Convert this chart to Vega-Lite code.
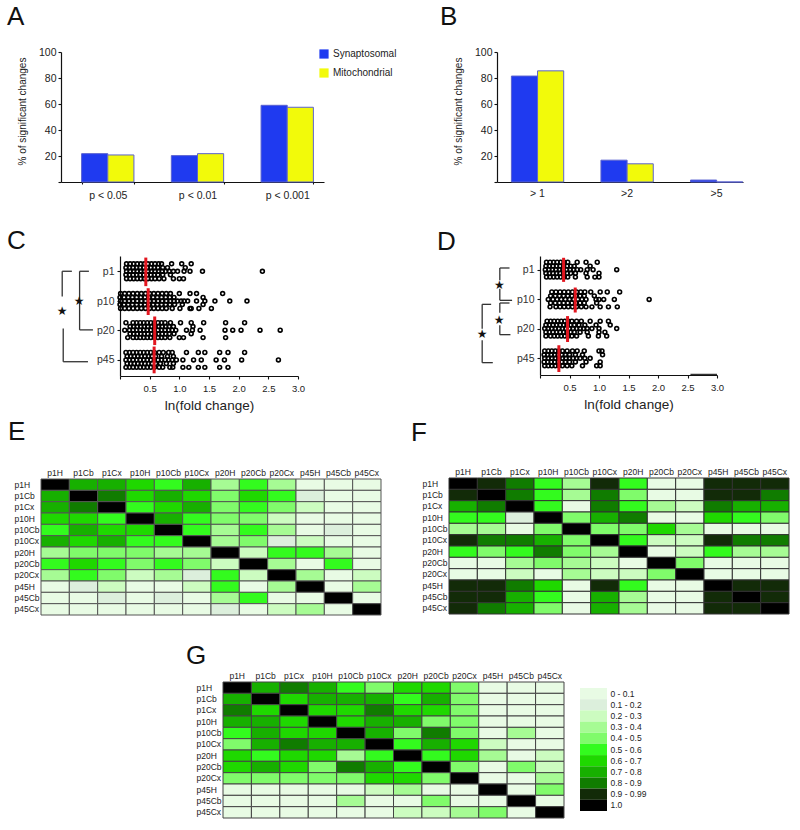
{"$schema":"https://vega.github.io/schema/vega-lite/v6.json","background":"white","padding":{"left":7,"top":4,"right":0,"bottom":0},"bounds":"flush","spacing":0,
"config":{"view":{"stroke":null},"font":"Liberation Sans","axis":{"labelFont":"Liberation Sans","titleFont":"Liberation Sans","grid":false,"labelColor":"#222","titleColor":"#222","domainColor":"#111","tickColor":"#111","titleFontWeight":"normal","domainWidth":1.2,"tickWidth":1.1,"labelOverlap":false,"labelFlush":false},"title":{"fontWeight":"normal","fontSize":26,"anchor":"start","frame":"group","color":"#111","font":"Liberation Sans"},"legend":{"labelFont":"Liberation Sans"}},
"resolve":{"scale":{"fill":"independent","x":"independent","y":"independent"},"legend":{"fill":"independent"}},
"datasets":{
"A":[{"g":"p < 0.05","s":"Synaptosomal","v":21.8},{"g":"p < 0.05","s":"Mitochondrial","v":20.8},{"g":"p < 0.01","s":"Synaptosomal","v":20.3},{"g":"p < 0.01","s":"Mitochondrial","v":21.8},{"g":"p < 0.001","s":"Synaptosomal","v":59},{"g":"p < 0.001","s":"Mitochondrial","v":57.5}],
"B":[{"g":"> 1","s":"Synaptosomal","v":81.5},{"g":"> 1","s":"Mitochondrial","v":85.5},{"g":">2","s":"Synaptosomal","v":16.8},{"g":">2","s":"Mitochondrial","v":14},{"g":">5","s":"Synaptosomal","v":1.5},{"g":">5","s":"Mitochondrial","v":0}],
"Cm":[{"x":0.435,"y":0.02,"y2":0.98},{"x":0.475,"y":1.05,"y2":1.95},{"x":0.585,"y":2.0,"y2":2.96},{"x":0.575,"y":3.01,"y2":3.91}],
"Dm":[{"x":0.4,"y":0.06,"y2":0.87},{"x":0.597,"y":1.06,"y2":1.9},{"x":0.467,"y":2.02,"y2":2.89},{"x":0.32,"y":3.0,"y2":3.9}],
"Cb":[{"x":-0.974,"x2":-0.811,"y":0.48,"y2":0.48},{"x":-0.974,"x2":-0.974,"y":0.48,"y2":1.33},{"x":-0.957,"x2":-0.957,"y":2.4,"y2":3.52},{"x":-0.957,"x2":-0.54,"y":3.52,"y2":3.52},{"x":-0.681,"x2":-0.524,"y":0.48,"y2":0.48},{"x":-0.681,"x2":-0.681,"y":0.48,"y2":2.45},{"x":-0.681,"x2":-0.456,"y":2.45,"y2":2.45}],
"Db":[{"x":-0.681,"x2":-0.518,"y":0.403,"y2":0.403},{"x":-0.681,"x2":-0.681,"y":0.403,"y2":0.818},{"x":-0.681,"x2":-0.681,"y":1.098,"y2":1.49},{"x":-0.681,"x2":-0.473,"y":1.49,"y2":1.49},{"x":-0.681,"x2":-0.518,"y":1.58,"y2":1.58},{"x":-0.681,"x2":-0.681,"y":1.58,"y2":1.905},{"x":-0.681,"x2":-0.681,"y":2.33,"y2":2.644},{"x":-0.681,"x2":-0.501,"y":2.644,"y2":2.644},{"x":-0.98,"x2":-0.828,"y":1.625,"y2":1.625},{"x":-0.98,"x2":-0.98,"y":1.625,"y2":2.443},{"x":-0.98,"x2":-0.98,"y":2.835,"y2":3.585},{"x":-0.98,"x2":-0.8,"y":3.585,"y2":3.585},{"x":2.55,"x2":3,"y":3.98,"y2":3.98}],
"Cs":[{"x":-0.69,"y":1.48,"t":"★"},{"x":-0.974,"y":1.8,"t":"★"}],
"Ds":[{"x":-0.687,"y":0.964,"t":"★"},{"x":-0.693,"y":2.14,"t":"★"},{"x":-0.98,"y":2.633,"t":"★"}],
"C":[{"x":0.11,"y":0.23},{"x":0.17,"y":0.23},{"x":0.23,"y":0.23},{"x":0.29,"y":0.23},{"x":0.35,"y":0.23},{"x":0.41,"y":0.23},{"x":0.47,"y":0.23},{"x":0.53,"y":0.23},{"x":0.59,"y":0.23},{"x":0.65,"y":0.23},{"x":0.7,"y":0.23},{"x":0.87,"y":0.23},{"x":1.04,"y":0.23},{"x":1.2,"y":0.23},
{"x":0.1,"y":0.36},{"x":0.16,"y":0.36},{"x":0.22,"y":0.36},{"x":0.28,"y":0.36},{"x":0.34,"y":0.36},{"x":0.4,"y":0.36},{"x":0.46,"y":0.36},{"x":0.52,"y":0.36},{"x":0.58,"y":0.36},{"x":0.64,"y":0.36},{"x":0.72,"y":0.36},{"x":0.8,"y":0.36},{"x":1.1,"y":0.36},
{"x":0.11,"y":0.48},{"x":0.17,"y":0.48},{"x":0.23,"y":0.48},{"x":0.29,"y":0.48},{"x":0.35,"y":0.48},{"x":0.41,"y":0.48},{"x":0.47,"y":0.48},{"x":0.53,"y":0.48},{"x":0.59,"y":0.48},{"x":0.65,"y":0.48},{"x":0.71,"y":0.48},{"x":0.77,"y":0.48},{"x":0.83,"y":0.48},{"x":0.9,"y":0.48},{"x":0.97,"y":0.48},{"x":1.08,"y":0.48},{"x":1.18,"y":0.48},{"x":1.39,"y":0.48},{"x":2.4,"y":0.48},
{"x":0.1,"y":0.6},{"x":0.16,"y":0.6},{"x":0.22,"y":0.6},{"x":0.28,"y":0.6},{"x":0.34,"y":0.6},{"x":0.4,"y":0.6},{"x":0.46,"y":0.6},{"x":0.52,"y":0.6},{"x":0.58,"y":0.6},{"x":0.64,"y":0.6},{"x":0.72,"y":0.6},{"x":0.85,"y":0.6},
{"x":0.11,"y":0.73},{"x":0.17,"y":0.73},{"x":0.23,"y":0.73},{"x":0.29,"y":0.73},{"x":0.35,"y":0.73},{"x":0.41,"y":0.73},{"x":0.47,"y":0.73},{"x":0.53,"y":0.73},{"x":0.59,"y":0.73},{"x":0.66,"y":0.73},{"x":0.74,"y":0.73},{"x":0.9,"y":0.73},{"x":1.0,"y":0.73},{"x":1.07,"y":0.73},
{"x":0.01,"y":1.23},{"x":0.08,"y":1.23},{"x":0.15,"y":1.23},{"x":0.22,"y":1.23},{"x":0.29,"y":1.23},{"x":0.36,"y":1.23},{"x":0.43,"y":1.23},{"x":0.5,"y":1.23},{"x":0.57,"y":1.23},{"x":0.64,"y":1.23},{"x":0.71,"y":1.23},{"x":0.78,"y":1.23},{"x":0.85,"y":1.23},{"x":1.0,"y":1.23},{"x":1.18,"y":1.23},{"x":1.29,"y":1.23},{"x":1.73,"y":1.23},
{"x":0.0,"y":1.36},{"x":0.07,"y":1.36},{"x":0.14,"y":1.36},{"x":0.21,"y":1.36},{"x":0.28,"y":1.36},{"x":0.35,"y":1.36},{"x":0.42,"y":1.36},{"x":0.49,"y":1.36},{"x":0.56,"y":1.36},{"x":0.63,"y":1.36},{"x":0.7,"y":1.36},{"x":0.77,"y":1.36},{"x":0.84,"y":1.36},{"x":0.91,"y":1.36},{"x":1.4,"y":1.36},
{"x":0.01,"y":1.48},{"x":0.08,"y":1.48},{"x":0.15,"y":1.48},{"x":0.22,"y":1.48},{"x":0.29,"y":1.48},{"x":0.36,"y":1.48},{"x":0.43,"y":1.48},{"x":0.5,"y":1.48},{"x":0.57,"y":1.48},{"x":0.64,"y":1.48},{"x":0.71,"y":1.48},{"x":0.78,"y":1.48},{"x":0.85,"y":1.48},{"x":0.91,"y":1.48},{"x":0.97,"y":1.48},{"x":1.03,"y":1.48},{"x":1.08,"y":1.48},{"x":1.14,"y":1.48},{"x":1.29,"y":1.48},{"x":1.43,"y":1.48},{"x":1.6,"y":1.48},{"x":1.85,"y":1.48},{"x":2.14,"y":1.48},
{"x":0.0,"y":1.6},{"x":0.07,"y":1.6},{"x":0.14,"y":1.6},{"x":0.21,"y":1.6},{"x":0.28,"y":1.6},{"x":0.35,"y":1.6},{"x":0.42,"y":1.6},{"x":0.49,"y":1.6},{"x":0.56,"y":1.6},{"x":0.63,"y":1.6},{"x":0.7,"y":1.6},{"x":0.77,"y":1.6},{"x":0.84,"y":1.6},{"x":0.92,"y":1.6},{"x":1.05,"y":1.6},{"x":1.4,"y":1.6},
{"x":0.01,"y":1.73},{"x":0.08,"y":1.73},{"x":0.15,"y":1.73},{"x":0.22,"y":1.73},{"x":0.29,"y":1.73},{"x":0.36,"y":1.73},{"x":0.43,"y":1.73},{"x":0.5,"y":1.73},{"x":0.57,"y":1.73},{"x":0.64,"y":1.73},{"x":0.71,"y":1.73},{"x":0.78,"y":1.73},{"x":0.88,"y":1.73},{"x":1.01,"y":1.73},{"x":1.18,"y":1.73},{"x":1.2,"y":1.73},{"x":1.33,"y":1.73},{"x":1.54,"y":1.73},
{"x":0.1,"y":2.21},{"x":0.22,"y":2.21},{"x":0.28,"y":2.21},{"x":0.34,"y":2.21},{"x":0.4,"y":2.21},{"x":0.46,"y":2.21},{"x":0.52,"y":2.21},{"x":0.58,"y":2.21},{"x":0.64,"y":2.21},{"x":0.7,"y":2.21},{"x":0.76,"y":2.21},{"x":0.85,"y":2.21},{"x":1.02,"y":2.21},{"x":1.2,"y":2.21},{"x":1.41,"y":2.21},{"x":1.78,"y":2.21},{"x":2.1,"y":2.21},
{"x":0.17,"y":2.34},{"x":0.23,"y":2.34},{"x":0.29,"y":2.34},{"x":0.35,"y":2.34},{"x":0.41,"y":2.34},{"x":0.47,"y":2.34},{"x":0.53,"y":2.34},{"x":0.59,"y":2.34},{"x":0.65,"y":2.34},{"x":0.71,"y":2.34},{"x":0.77,"y":2.34},{"x":0.83,"y":2.34},{"x":0.9,"y":2.34},{"x":1.23,"y":2.34},
{"x":0.08,"y":2.46},{"x":0.16,"y":2.46},{"x":0.22,"y":2.46},{"x":0.28,"y":2.46},{"x":0.34,"y":2.46},{"x":0.4,"y":2.46},{"x":0.46,"y":2.46},{"x":0.52,"y":2.46},{"x":0.58,"y":2.46},{"x":0.64,"y":2.46},{"x":0.7,"y":2.46},{"x":0.76,"y":2.46},{"x":0.82,"y":2.46},{"x":0.88,"y":2.46},{"x":0.94,"y":2.46},{"x":1.12,"y":2.46},{"x":1.22,"y":2.46},{"x":1.35,"y":2.46},{"x":1.77,"y":2.46},{"x":1.9,"y":2.46},{"x":2.04,"y":2.46},{"x":2.36,"y":2.46},{"x":2.7,"y":2.46},
{"x":0.17,"y":2.58},{"x":0.23,"y":2.58},{"x":0.29,"y":2.58},{"x":0.35,"y":2.58},{"x":0.41,"y":2.58},{"x":0.47,"y":2.58},{"x":0.53,"y":2.58},{"x":0.59,"y":2.58},{"x":0.65,"y":2.58},{"x":0.71,"y":2.58},{"x":0.77,"y":2.58},{"x":0.83,"y":2.58},{"x":0.91,"y":2.58},{"x":1.2,"y":2.58},
{"x":0.13,"y":2.71},{"x":0.22,"y":2.71},{"x":0.28,"y":2.71},{"x":0.34,"y":2.71},{"x":0.4,"y":2.71},{"x":0.46,"y":2.71},{"x":0.52,"y":2.71},{"x":0.58,"y":2.71},{"x":0.64,"y":2.71},{"x":0.7,"y":2.71},{"x":0.76,"y":2.71},{"x":0.84,"y":2.71},{"x":1.0,"y":2.71},{"x":1.07,"y":2.71},{"x":1.4,"y":2.71},{"x":1.78,"y":2.71},
{"x":0.1,"y":3.21},{"x":0.16,"y":3.21},{"x":0.22,"y":3.21},{"x":0.28,"y":3.21},{"x":0.34,"y":3.21},{"x":0.4,"y":3.21},{"x":0.46,"y":3.21},{"x":0.52,"y":3.21},{"x":0.58,"y":3.21},{"x":0.66,"y":3.21},{"x":0.73,"y":3.21},{"x":0.82,"y":3.21},{"x":0.88,"y":3.21},{"x":1.12,"y":3.21},{"x":1.32,"y":3.21},{"x":1.43,"y":3.21},{"x":1.68,"y":3.21},{"x":1.82,"y":3.21},{"x":2.1,"y":3.21},
{"x":0.12,"y":3.34},{"x":0.18,"y":3.34},{"x":0.24,"y":3.34},{"x":0.3,"y":3.34},{"x":0.36,"y":3.34},{"x":0.42,"y":3.34},{"x":0.48,"y":3.34},{"x":0.54,"y":3.34},{"x":0.6,"y":3.34},{"x":0.7,"y":3.34},{"x":0.8,"y":3.34},{"x":0.9,"y":3.34},
{"x":0.1,"y":3.46},{"x":0.16,"y":3.46},{"x":0.22,"y":3.46},{"x":0.28,"y":3.46},{"x":0.34,"y":3.46},{"x":0.4,"y":3.46},{"x":0.46,"y":3.46},{"x":0.52,"y":3.46},{"x":0.58,"y":3.46},{"x":0.64,"y":3.46},{"x":0.7,"y":3.46},{"x":0.76,"y":3.46},{"x":0.82,"y":3.46},{"x":0.88,"y":3.46},{"x":0.95,"y":3.46},{"x":1.06,"y":3.46},{"x":1.24,"y":3.46},{"x":1.37,"y":3.46},{"x":1.62,"y":3.46},{"x":1.76,"y":3.46},{"x":2.05,"y":3.46},{"x":2.67,"y":3.46},
{"x":0.12,"y":3.58},{"x":0.18,"y":3.58},{"x":0.24,"y":3.58},{"x":0.3,"y":3.58},{"x":0.36,"y":3.58},{"x":0.42,"y":3.58},{"x":0.48,"y":3.58},{"x":0.54,"y":3.58},{"x":0.6,"y":3.58},{"x":0.68,"y":3.58},{"x":0.78,"y":3.58},{"x":0.9,"y":3.58},
{"x":0.1,"y":3.71},{"x":0.16,"y":3.71},{"x":0.22,"y":3.71},{"x":0.28,"y":3.71},{"x":0.34,"y":3.71},{"x":0.4,"y":3.71},{"x":0.46,"y":3.71},{"x":0.52,"y":3.71},{"x":0.58,"y":3.71},{"x":0.66,"y":3.71},{"x":0.72,"y":3.71},{"x":0.84,"y":3.71},{"x":0.89,"y":3.71},{"x":1.06,"y":3.71},{"x":1.16,"y":3.71},{"x":1.32,"y":3.71},{"x":1.43,"y":3.71},{"x":1.68,"y":3.71},{"x":1.82,"y":3.71}],
"D":[{"x":0.11,"y":0.21},{"x":0.17,"y":0.21},{"x":0.23,"y":0.21},{"x":0.29,"y":0.21},{"x":0.35,"y":0.21},{"x":0.41,"y":0.21},{"x":0.47,"y":0.21},{"x":0.63,"y":0.21},{"x":0.78,"y":0.21},{"x":0.97,"y":0.21},
{"x":0.1,"y":0.34},{"x":0.16,"y":0.34},{"x":0.22,"y":0.34},{"x":0.28,"y":0.34},{"x":0.34,"y":0.34},{"x":0.4,"y":0.34},{"x":0.46,"y":0.34},{"x":0.52,"y":0.34},{"x":0.58,"y":0.34},{"x":0.85,"y":0.34},
{"x":0.09,"y":0.46},{"x":0.15,"y":0.46},{"x":0.21,"y":0.46},{"x":0.27,"y":0.46},{"x":0.33,"y":0.46},{"x":0.39,"y":0.46},{"x":0.45,"y":0.46},{"x":0.51,"y":0.46},{"x":0.57,"y":0.46},{"x":0.63,"y":0.46},{"x":0.69,"y":0.46},{"x":0.8,"y":0.46},{"x":0.9,"y":0.46},{"x":1.3,"y":0.46},
{"x":0.1,"y":0.58},{"x":0.16,"y":0.58},{"x":0.22,"y":0.58},{"x":0.28,"y":0.58},{"x":0.34,"y":0.58},{"x":0.4,"y":0.58},{"x":0.46,"y":0.58},{"x":0.52,"y":0.58},{"x":0.6,"y":0.58},{"x":0.78,"y":0.58},{"x":1.0,"y":0.58},
{"x":0.11,"y":0.71},{"x":0.17,"y":0.71},{"x":0.23,"y":0.71},{"x":0.29,"y":0.71},{"x":0.35,"y":0.71},{"x":0.41,"y":0.71},{"x":0.47,"y":0.71},{"x":0.6,"y":0.71},{"x":0.8,"y":0.71},{"x":0.93,"y":0.71},{"x":1.0,"y":0.71},
{"x":0.2,"y":1.21},{"x":0.27,"y":1.21},{"x":0.34,"y":1.21},{"x":0.41,"y":1.21},{"x":0.48,"y":1.21},{"x":0.55,"y":1.21},{"x":0.62,"y":1.21},{"x":0.69,"y":1.21},{"x":0.76,"y":1.21},{"x":0.86,"y":1.21},{"x":1.02,"y":1.21},{"x":1.14,"y":1.21},{"x":1.35,"y":1.21},
{"x":0.18,"y":1.34},{"x":0.26,"y":1.34},{"x":0.33,"y":1.34},{"x":0.4,"y":1.34},{"x":0.47,"y":1.34},{"x":0.54,"y":1.34},{"x":0.61,"y":1.34},{"x":0.68,"y":1.34},{"x":0.75,"y":1.34},{"x":0.92,"y":1.34},
{"x":0.14,"y":1.46},{"x":0.22,"y":1.46},{"x":0.29,"y":1.46},{"x":0.36,"y":1.46},{"x":0.43,"y":1.46},{"x":0.5,"y":1.46},{"x":0.57,"y":1.46},{"x":0.64,"y":1.46},{"x":0.71,"y":1.46},{"x":0.78,"y":1.46},{"x":0.95,"y":1.46},{"x":1.0,"y":1.46},{"x":1.08,"y":1.46},{"x":1.26,"y":1.46},{"x":1.85,"y":1.46},
{"x":0.18,"y":1.58},{"x":0.26,"y":1.58},{"x":0.33,"y":1.58},{"x":0.4,"y":1.58},{"x":0.47,"y":1.58},{"x":0.54,"y":1.58},{"x":0.61,"y":1.58},{"x":0.68,"y":1.58},{"x":0.75,"y":1.58},{"x":0.96,"y":1.58},
{"x":0.17,"y":1.71},{"x":0.27,"y":1.71},{"x":0.34,"y":1.71},{"x":0.41,"y":1.71},{"x":0.48,"y":1.71},{"x":0.55,"y":1.71},{"x":0.62,"y":1.71},{"x":0.7,"y":1.71},{"x":0.78,"y":1.71},{"x":0.88,"y":1.71},{"x":1.02,"y":1.71},{"x":1.16,"y":1.71},{"x":1.31,"y":1.71},
{"x":0.12,"y":2.19},{"x":0.18,"y":2.19},{"x":0.24,"y":2.19},{"x":0.3,"y":2.19},{"x":0.36,"y":2.19},{"x":0.42,"y":2.19},{"x":0.48,"y":2.19},{"x":0.54,"y":2.19},{"x":0.62,"y":2.19},{"x":0.7,"y":2.19},{"x":0.85,"y":2.19},{"x":1.02,"y":2.19},{"x":1.16,"y":2.19},
{"x":0.1,"y":2.32},{"x":0.16,"y":2.32},{"x":0.22,"y":2.32},{"x":0.28,"y":2.32},{"x":0.34,"y":2.32},{"x":0.4,"y":2.32},{"x":0.46,"y":2.32},{"x":0.52,"y":2.32},{"x":0.58,"y":2.32},{"x":0.66,"y":2.32},{"x":0.76,"y":2.32},{"x":0.95,"y":2.32},{"x":1.19,"y":2.32},
{"x":0.08,"y":2.44},{"x":0.14,"y":2.44},{"x":0.2,"y":2.44},{"x":0.26,"y":2.44},{"x":0.32,"y":2.44},{"x":0.38,"y":2.44},{"x":0.44,"y":2.44},{"x":0.5,"y":2.44},{"x":0.56,"y":2.44},{"x":0.62,"y":2.44},{"x":0.68,"y":2.44},{"x":0.74,"y":2.44},{"x":0.8,"y":2.44},{"x":0.88,"y":2.44},{"x":1.0,"y":2.44},{"x":1.3,"y":2.44},
{"x":0.1,"y":2.56},{"x":0.16,"y":2.56},{"x":0.22,"y":2.56},{"x":0.28,"y":2.56},{"x":0.34,"y":2.56},{"x":0.4,"y":2.56},{"x":0.46,"y":2.56},{"x":0.52,"y":2.56},{"x":0.58,"y":2.56},{"x":0.68,"y":2.56},{"x":0.8,"y":2.56},{"x":1.0,"y":2.56},{"x":1.1,"y":2.56},
{"x":0.1,"y":2.69},{"x":0.18,"y":2.69},{"x":0.24,"y":2.69},{"x":0.3,"y":2.69},{"x":0.36,"y":2.69},{"x":0.42,"y":2.69},{"x":0.48,"y":2.69},{"x":0.54,"y":2.69},{"x":0.62,"y":2.69},{"x":0.82,"y":2.69},{"x":0.99,"y":2.69},{"x":1.13,"y":2.69},
{"x":0.08,"y":3.19},{"x":0.14,"y":3.19},{"x":0.2,"y":3.19},{"x":0.26,"y":3.19},{"x":0.32,"y":3.19},{"x":0.38,"y":3.19},{"x":0.46,"y":3.19},{"x":0.55,"y":3.19},{"x":0.63,"y":3.19},{"x":0.75,"y":3.19},{"x":1.0,"y":3.19},{"x":1.05,"y":3.19},
{"x":0.07,"y":3.32},{"x":0.13,"y":3.32},{"x":0.19,"y":3.32},{"x":0.25,"y":3.32},{"x":0.31,"y":3.32},{"x":0.37,"y":3.32},{"x":0.43,"y":3.32},{"x":0.5,"y":3.32},{"x":0.6,"y":3.32},{"x":0.72,"y":3.32},{"x":1.06,"y":3.32},
{"x":0.08,"y":3.44},{"x":0.14,"y":3.44},{"x":0.2,"y":3.44},{"x":0.26,"y":3.44},{"x":0.32,"y":3.44},{"x":0.38,"y":3.44},{"x":0.44,"y":3.44},{"x":0.5,"y":3.44},{"x":0.56,"y":3.44},{"x":0.62,"y":3.44},{"x":0.68,"y":3.44},{"x":0.76,"y":3.44},{"x":0.85,"y":3.44},
{"x":0.07,"y":3.56},{"x":0.13,"y":3.56},{"x":0.19,"y":3.56},{"x":0.25,"y":3.56},{"x":0.31,"y":3.56},{"x":0.37,"y":3.56},{"x":0.43,"y":3.56},{"x":0.5,"y":3.56},{"x":0.6,"y":3.56},{"x":0.78,"y":3.56},{"x":1.02,"y":3.56},
{"x":0.08,"y":3.69},{"x":0.14,"y":3.69},{"x":0.2,"y":3.69},{"x":0.26,"y":3.69},{"x":0.32,"y":3.69},{"x":0.38,"y":3.69},{"x":0.46,"y":3.69},{"x":0.54,"y":3.69},{"x":0.72,"y":3.69},{"x":0.96,"y":3.69},{"x":1.02,"y":3.69}],
"E":[{"r":"p1H","c":"p1H","v":1},{"r":"p1H","c":"p1Cb","v":0.75},{"r":"p1H","c":"p1Cx","v":0.75},{"r":"p1H","c":"p10H","v":0.65},{"r":"p1H","c":"p10Cb","v":0.55},{"r":"p1H","c":"p10Cx","v":0.75},{"r":"p1H","c":"p20H","v":0.35},{"r":"p1H","c":"p20Cb","v":0.55},{"r":"p1H","c":"p20Cx","v":0.35},{"r":"p1H","c":"p45H","v":0.05},{"r":"p1H","c":"p45Cb","v":0.05},{"r":"p1H","c":"p45Cx","v":0.05},
{"r":"p1Cb","c":"p1H","v":0.75},{"r":"p1Cb","c":"p1Cb","v":1},{"r":"p1Cb","c":"p1Cx","v":0.85},{"r":"p1Cb","c":"p10H","v":0.65},{"r":"p1Cb","c":"p10Cb","v":0.75},{"r":"p1Cb","c":"p10Cx","v":0.65},{"r":"p1Cb","c":"p20H","v":0.45},{"r":"p1Cb","c":"p20Cb","v":0.65},{"r":"p1Cb","c":"p20Cx","v":0.55},{"r":"p1Cb","c":"p45H","v":0.15},{"r":"p1Cb","c":"p45Cb","v":0.05},{"r":"p1Cb","c":"p45Cx","v":0.05},
{"r":"p1Cx","c":"p1H","v":0.75},{"r":"p1Cx","c":"p1Cb","v":0.85},{"r":"p1Cx","c":"p1Cx","v":1},{"r":"p1Cx","c":"p10H","v":0.55},{"r":"p1Cx","c":"p10Cb","v":0.65},{"r":"p1Cx","c":"p10Cx","v":0.75},{"r":"p1Cx","c":"p20H","v":0.45},{"r":"p1Cx","c":"p20Cb","v":0.55},{"r":"p1Cx","c":"p20Cx","v":0.45},{"r":"p1Cx","c":"p45H","v":0.25},{"r":"p1Cx","c":"p45Cb","v":0.05},{"r":"p1Cx","c":"p45Cx","v":0.05},
{"r":"p10H","c":"p1H","v":0.65},{"r":"p10H","c":"p1Cb","v":0.65},{"r":"p10H","c":"p1Cx","v":0.55},{"r":"p10H","c":"p10H","v":1},{"r":"p10H","c":"p10Cb","v":0.75},{"r":"p10H","c":"p10Cx","v":0.55},{"r":"p10H","c":"p20H","v":0.45},{"r":"p10H","c":"p20Cb","v":0.45},{"r":"p10H","c":"p20Cx","v":0.25},{"r":"p10H","c":"p45H","v":0.05},{"r":"p10H","c":"p45Cb","v":0.05},{"r":"p10H","c":"p45Cx","v":0.05},
{"r":"p10Cb","c":"p1H","v":0.55},{"r":"p10Cb","c":"p1Cb","v":0.75},{"r":"p10Cb","c":"p1Cx","v":0.65},{"r":"p10Cb","c":"p10H","v":0.65},{"r":"p10Cb","c":"p10Cb","v":1},{"r":"p10Cb","c":"p10Cx","v":0.55},{"r":"p10Cb","c":"p20H","v":0.35},{"r":"p10Cb","c":"p20Cb","v":0.55},{"r":"p10Cb","c":"p20Cx","v":0.35},{"r":"p10Cb","c":"p45H","v":0.05},{"r":"p10Cb","c":"p45Cb","v":0.15},{"r":"p10Cb","c":"p45Cx","v":0.05},
{"r":"p10Cx","c":"p1H","v":0.75},{"r":"p10Cx","c":"p1Cb","v":0.65},{"r":"p10Cx","c":"p1Cx","v":0.75},{"r":"p10Cx","c":"p10H","v":0.55},{"r":"p10Cx","c":"p10Cb","v":0.55},{"r":"p10Cx","c":"p10Cx","v":1},{"r":"p10Cx","c":"p20H","v":0.35},{"r":"p10Cx","c":"p20Cb","v":0.45},{"r":"p10Cx","c":"p20Cx","v":0.15},{"r":"p10Cx","c":"p45H","v":0.25},{"r":"p10Cx","c":"p45Cb","v":0.05},{"r":"p10Cx","c":"p45Cx","v":0.05},
{"r":"p20H","c":"p1H","v":0.35},{"r":"p20H","c":"p1Cb","v":0.45},{"r":"p20H","c":"p1Cx","v":0.45},{"r":"p20H","c":"p10H","v":0.45},{"r":"p20H","c":"p10Cb","v":0.35},{"r":"p20H","c":"p10Cx","v":0.35},{"r":"p20H","c":"p20H","v":1},{"r":"p20H","c":"p20Cb","v":0.25},{"r":"p20H","c":"p20Cx","v":0.55},{"r":"p20H","c":"p45H","v":0.55},{"r":"p20H","c":"p45Cb","v":0.35},{"r":"p20H","c":"p45Cx","v":0.05},
{"r":"p20Cb","c":"p1H","v":0.55},{"r":"p20Cb","c":"p1Cb","v":0.65},{"r":"p20Cb","c":"p1Cx","v":0.55},{"r":"p20Cb","c":"p10H","v":0.45},{"r":"p20Cb","c":"p10Cb","v":0.55},{"r":"p20Cb","c":"p10Cx","v":0.45},{"r":"p20Cb","c":"p20H","v":0.25},{"r":"p20Cb","c":"p20Cb","v":1},{"r":"p20Cb","c":"p20Cx","v":0.35},{"r":"p20Cb","c":"p45H","v":0.05},{"r":"p20Cb","c":"p45Cb","v":0.55},{"r":"p20Cb","c":"p45Cx","v":0.05},
{"r":"p20Cx","c":"p1H","v":0.35},{"r":"p20Cx","c":"p1Cb","v":0.55},{"r":"p20Cx","c":"p1Cx","v":0.45},{"r":"p20Cx","c":"p10H","v":0.25},{"r":"p20Cx","c":"p10Cb","v":0.35},{"r":"p20Cx","c":"p10Cx","v":0.15},{"r":"p20Cx","c":"p20H","v":0.55},{"r":"p20Cx","c":"p20Cb","v":0.25},{"r":"p20Cx","c":"p20Cx","v":1},{"r":"p20Cx","c":"p45H","v":0.35},{"r":"p20Cx","c":"p45Cb","v":0.05},{"r":"p20Cx","c":"p45Cx","v":0.25},
{"r":"p45H","c":"p1H","v":0.05},{"r":"p45H","c":"p1Cb","v":0.15},{"r":"p45H","c":"p1Cx","v":0.25},{"r":"p45H","c":"p10H","v":0.05},{"r":"p45H","c":"p10Cb","v":0.05},{"r":"p45H","c":"p10Cx","v":0.25},{"r":"p45H","c":"p20H","v":0.55},{"r":"p45H","c":"p20Cb","v":0.05},{"r":"p45H","c":"p20Cx","v":0.35},{"r":"p45H","c":"p45H","v":1},{"r":"p45H","c":"p45Cb","v":0.05},{"r":"p45H","c":"p45Cx","v":0.35},
{"r":"p45Cb","c":"p1H","v":0.05},{"r":"p45Cb","c":"p1Cb","v":0.05},{"r":"p45Cb","c":"p1Cx","v":0.15},{"r":"p45Cb","c":"p10H","v":0.05},{"r":"p45Cb","c":"p10Cb","v":0.15},{"r":"p45Cb","c":"p10Cx","v":0.05},{"r":"p45Cb","c":"p20H","v":0.35},{"r":"p45Cb","c":"p20Cb","v":0.55},{"r":"p45Cb","c":"p20Cx","v":0.05},{"r":"p45Cb","c":"p45H","v":0.05},{"r":"p45Cb","c":"p45Cb","v":1},{"r":"p45Cb","c":"p45Cx","v":0.05},
{"r":"p45Cx","c":"p1H","v":0.05},{"r":"p45Cx","c":"p1Cb","v":0.05},{"r":"p45Cx","c":"p1Cx","v":0.05},{"r":"p45Cx","c":"p10H","v":0.05},{"r":"p45Cx","c":"p10Cb","v":0.05},{"r":"p45Cx","c":"p10Cx","v":0.05},{"r":"p45Cx","c":"p20H","v":0.15},{"r":"p45Cx","c":"p20Cb","v":0.05},{"r":"p45Cx","c":"p20Cx","v":0.25},{"r":"p45Cx","c":"p45H","v":0.35},{"r":"p45Cx","c":"p45Cb","v":0.05},{"r":"p45Cx","c":"p45Cx","v":1}],
"F":[{"r":"p1H","c":"p1H","v":1},{"r":"p1H","c":"p1Cb","v":0.95},{"r":"p1H","c":"p1Cx","v":0.85},{"r":"p1H","c":"p10H","v":0.55},{"r":"p1H","c":"p10Cb","v":0.35},{"r":"p1H","c":"p10Cx","v":0.95},{"r":"p1H","c":"p20H","v":0.55},{"r":"p1H","c":"p20Cb","v":0.05},{"r":"p1H","c":"p20Cx","v":0.05},{"r":"p1H","c":"p45H","v":0.95},{"r":"p1H","c":"p45Cb","v":0.95},{"r":"p1H","c":"p45Cx","v":0.95},
{"r":"p1Cb","c":"p1H","v":0.95},{"r":"p1Cb","c":"p1Cb","v":1},{"r":"p1Cb","c":"p1Cx","v":0.85},{"r":"p1Cb","c":"p10H","v":0.55},{"r":"p1Cb","c":"p10Cb","v":0.35},{"r":"p1Cb","c":"p10Cx","v":0.85},{"r":"p1Cb","c":"p20H","v":0.45},{"r":"p1Cb","c":"p20Cb","v":0.05},{"r":"p1Cb","c":"p20Cx","v":0.05},{"r":"p1Cb","c":"p45H","v":0.95},{"r":"p1Cb","c":"p45Cb","v":0.95},{"r":"p1Cb","c":"p45Cx","v":0.85},
{"r":"p1Cx","c":"p1H","v":0.75},{"r":"p1Cx","c":"p1Cb","v":0.85},{"r":"p1Cx","c":"p1Cx","v":1},{"r":"p1Cx","c":"p10H","v":0.55},{"r":"p1Cx","c":"p10Cb","v":0.05},{"r":"p1Cx","c":"p10Cx","v":0.85},{"r":"p1Cx","c":"p20H","v":0.55},{"r":"p1Cx","c":"p20Cb","v":0.35},{"r":"p1Cx","c":"p20Cx","v":0.25},{"r":"p1Cx","c":"p45H","v":0.85},{"r":"p1Cx","c":"p45Cb","v":0.75},{"r":"p1Cx","c":"p45Cx","v":0.75},
{"r":"p10H","c":"p1H","v":0.55},{"r":"p10H","c":"p1Cb","v":0.55},{"r":"p10H","c":"p1Cx","v":0.15},{"r":"p10H","c":"p10H","v":1},{"r":"p10H","c":"p10Cb","v":0.45},{"r":"p10H","c":"p10Cx","v":0.75},{"r":"p10H","c":"p20H","v":0.85},{"r":"p10H","c":"p20Cb","v":0.05},{"r":"p10H","c":"p20Cx","v":0.05},{"r":"p10H","c":"p45H","v":0.65},{"r":"p10H","c":"p45Cb","v":0.55},{"r":"p10H","c":"p45Cx","v":0.45},
{"r":"p10Cb","c":"p1H","v":0.35},{"r":"p10Cb","c":"p1Cb","v":0.35},{"r":"p10Cb","c":"p1Cx","v":0.05},{"r":"p10Cb","c":"p10H","v":0.45},{"r":"p10Cb","c":"p10Cb","v":1},{"r":"p10Cb","c":"p10Cx","v":0.45},{"r":"p10Cb","c":"p20H","v":0.45},{"r":"p10Cb","c":"p20Cb","v":0.65},{"r":"p10Cb","c":"p20Cx","v":0.35},{"r":"p10Cb","c":"p45H","v":0.05},{"r":"p10Cb","c":"p45Cb","v":0.05},{"r":"p10Cb","c":"p45Cx","v":0.05},
{"r":"p10Cx","c":"p1H","v":0.95},{"r":"p10Cx","c":"p1Cb","v":0.85},{"r":"p10Cx","c":"p1Cx","v":0.85},{"r":"p10Cx","c":"p10H","v":0.75},{"r":"p10Cx","c":"p10Cb","v":0.45},{"r":"p10Cx","c":"p10Cx","v":1},{"r":"p10Cx","c":"p20H","v":0.55},{"r":"p10Cx","c":"p20Cb","v":0.25},{"r":"p10Cx","c":"p20Cx","v":0.25},{"r":"p10Cx","c":"p45H","v":0.95},{"r":"p10Cx","c":"p45Cb","v":0.85},{"r":"p10Cx","c":"p45Cx","v":0.85},
{"r":"p20H","c":"p1H","v":0.55},{"r":"p20H","c":"p1Cb","v":0.45},{"r":"p20H","c":"p1Cx","v":0.55},{"r":"p20H","c":"p10H","v":0.85},{"r":"p20H","c":"p10Cb","v":0.45},{"r":"p20H","c":"p10Cx","v":0.35},{"r":"p20H","c":"p20H","v":1},{"r":"p20H","c":"p20Cb","v":0.05},{"r":"p20H","c":"p20Cx","v":0.25},{"r":"p20H","c":"p45H","v":0.55},{"r":"p20H","c":"p45Cb","v":0.35},{"r":"p20H","c":"p45Cx","v":0.35},
{"r":"p20Cb","c":"p1H","v":0.05},{"r":"p20Cb","c":"p1Cb","v":0.05},{"r":"p20Cb","c":"p1Cx","v":0.35},{"r":"p20Cb","c":"p10H","v":0.45},{"r":"p20Cb","c":"p10Cb","v":0.35},{"r":"p20Cb","c":"p10Cx","v":0.25},{"r":"p20Cb","c":"p20H","v":0.05},{"r":"p20Cb","c":"p20Cb","v":1},{"r":"p20Cb","c":"p20Cx","v":0.45},{"r":"p20Cb","c":"p45H","v":0.05},{"r":"p20Cb","c":"p45Cb","v":0.05},{"r":"p20Cb","c":"p45Cx","v":0.05},
{"r":"p20Cx","c":"p1H","v":0.05},{"r":"p20Cx","c":"p1Cb","v":0.05},{"r":"p20Cx","c":"p1Cx","v":0.25},{"r":"p20Cx","c":"p10H","v":0.05},{"r":"p20Cx","c":"p10Cb","v":0.35},{"r":"p20Cx","c":"p10Cx","v":0.25},{"r":"p20Cx","c":"p20H","v":0.25},{"r":"p20Cx","c":"p20Cb","v":0.45},{"r":"p20Cx","c":"p20Cx","v":1},{"r":"p20Cx","c":"p45H","v":0.05},{"r":"p20Cx","c":"p45Cb","v":0.05},{"r":"p20Cx","c":"p45Cx","v":0.05},
{"r":"p45H","c":"p1H","v":0.95},{"r":"p45H","c":"p1Cb","v":0.95},{"r":"p45H","c":"p1Cx","v":0.85},{"r":"p45H","c":"p10H","v":0.65},{"r":"p45H","c":"p10Cb","v":0.05},{"r":"p45H","c":"p10Cx","v":0.95},{"r":"p45H","c":"p20H","v":0.55},{"r":"p45H","c":"p20Cb","v":0.05},{"r":"p45H","c":"p20Cx","v":0.05},{"r":"p45H","c":"p45H","v":1},{"r":"p45H","c":"p45Cb","v":0.95},{"r":"p45H","c":"p45Cx","v":0.95},
{"r":"p45Cb","c":"p1H","v":0.95},{"r":"p45Cb","c":"p1Cb","v":0.95},{"r":"p45Cb","c":"p1Cx","v":0.75},{"r":"p45Cb","c":"p10H","v":0.55},{"r":"p45Cb","c":"p10Cb","v":0.05},{"r":"p45Cb","c":"p10Cx","v":0.75},{"r":"p45Cb","c":"p20H","v":0.35},{"r":"p45Cb","c":"p20Cb","v":0.05},{"r":"p45Cb","c":"p20Cx","v":0.05},{"r":"p45Cb","c":"p45H","v":0.95},{"r":"p45Cb","c":"p45Cb","v":1},{"r":"p45Cb","c":"p45Cx","v":0.95},
{"r":"p45Cx","c":"p1H","v":0.95},{"r":"p45Cx","c":"p1Cb","v":0.85},{"r":"p45Cx","c":"p1Cx","v":0.75},{"r":"p45Cx","c":"p10H","v":0.45},{"r":"p45Cx","c":"p10Cb","v":0.05},{"r":"p45Cx","c":"p10Cx","v":0.75},{"r":"p45Cx","c":"p20H","v":0.35},{"r":"p45Cx","c":"p20Cb","v":0.05},{"r":"p45Cx","c":"p20Cx","v":0.05},{"r":"p45Cx","c":"p45H","v":0.95},{"r":"p45Cx","c":"p45Cb","v":0.95},{"r":"p45Cx","c":"p45Cx","v":1}],
"G":[{"r":"p1H","c":"p1H","v":1},{"r":"p1H","c":"p1Cb","v":0.75},{"r":"p1H","c":"p1Cx","v":0.85},{"r":"p1H","c":"p10H","v":0.75},{"r":"p1H","c":"p10Cb","v":0.55},{"r":"p1H","c":"p10Cx","v":0.45},{"r":"p1H","c":"p20H","v":0.65},{"r":"p1H","c":"p20Cb","v":0.65},{"r":"p1H","c":"p20Cx","v":0.45},{"r":"p1H","c":"p45H","v":0.05},{"r":"p1H","c":"p45Cb","v":0.05},{"r":"p1H","c":"p45Cx","v":0.05},
{"r":"p1Cb","c":"p1H","v":0.75},{"r":"p1Cb","c":"p1Cb","v":1},{"r":"p1Cb","c":"p1Cx","v":0.65},{"r":"p1Cb","c":"p10H","v":0.75},{"r":"p1Cb","c":"p10Cb","v":0.75},{"r":"p1Cb","c":"p10Cx","v":0.75},{"r":"p1Cb","c":"p20H","v":0.55},{"r":"p1Cb","c":"p20Cb","v":0.75},{"r":"p1Cb","c":"p20Cx","v":0.45},{"r":"p1Cb","c":"p45H","v":0.05},{"r":"p1Cb","c":"p45Cb","v":0.05},{"r":"p1Cb","c":"p45Cx","v":0.05},
{"r":"p1Cx","c":"p1H","v":0.85},{"r":"p1Cx","c":"p1Cb","v":0.65},{"r":"p1Cx","c":"p1Cx","v":1},{"r":"p1Cx","c":"p10H","v":0.65},{"r":"p1Cx","c":"p10Cb","v":0.65},{"r":"p1Cx","c":"p10Cx","v":0.85},{"r":"p1Cx","c":"p20H","v":0.65},{"r":"p1Cx","c":"p20Cb","v":0.65},{"r":"p1Cx","c":"p20Cx","v":0.45},{"r":"p1Cx","c":"p45H","v":0.05},{"r":"p1Cx","c":"p45Cb","v":0.05},{"r":"p1Cx","c":"p45Cx","v":0.05},
{"r":"p10H","c":"p1H","v":0.75},{"r":"p10H","c":"p1Cb","v":0.75},{"r":"p10H","c":"p1Cx","v":0.65},{"r":"p10H","c":"p10H","v":1},{"r":"p10H","c":"p10Cb","v":0.65},{"r":"p10H","c":"p10Cx","v":0.75},{"r":"p10H","c":"p20H","v":0.75},{"r":"p10H","c":"p20Cb","v":0.45},{"r":"p10H","c":"p20Cx","v":0.45},{"r":"p10H","c":"p45H","v":0.05},{"r":"p10H","c":"p45Cb","v":0.05},{"r":"p10H","c":"p45Cx","v":0.05},
{"r":"p10Cb","c":"p1H","v":0.55},{"r":"p10Cb","c":"p1Cb","v":0.75},{"r":"p10Cb","c":"p1Cx","v":0.65},{"r":"p10Cb","c":"p10H","v":0.65},{"r":"p10Cb","c":"p10Cb","v":1},{"r":"p10Cb","c":"p10Cx","v":0.75},{"r":"p10Cb","c":"p20H","v":0.45},{"r":"p10Cb","c":"p20Cb","v":0.85},{"r":"p10Cb","c":"p20Cx","v":0.45},{"r":"p10Cb","c":"p45H","v":0.05},{"r":"p10Cb","c":"p45Cb","v":0.35},{"r":"p10Cb","c":"p45Cx","v":0.05},
{"r":"p10Cx","c":"p1H","v":0.45},{"r":"p10Cx","c":"p1Cb","v":0.75},{"r":"p10Cx","c":"p1Cx","v":0.85},{"r":"p10Cx","c":"p10H","v":0.75},{"r":"p10Cx","c":"p10Cb","v":0.75},{"r":"p10Cx","c":"p10Cx","v":1},{"r":"p10Cx","c":"p20H","v":0.55},{"r":"p10Cx","c":"p20Cb","v":0.75},{"r":"p10Cx","c":"p20Cx","v":0.65},{"r":"p10Cx","c":"p45H","v":0.25},{"r":"p10Cx","c":"p45Cb","v":0.05},{"r":"p10Cx","c":"p45Cx","v":0.05},
{"r":"p20H","c":"p1H","v":0.65},{"r":"p20H","c":"p1Cb","v":0.55},{"r":"p20H","c":"p1Cx","v":0.65},{"r":"p20H","c":"p10H","v":0.65},{"r":"p20H","c":"p10Cb","v":0.35},{"r":"p20H","c":"p10Cx","v":0.55},{"r":"p20H","c":"p20H","v":1},{"r":"p20H","c":"p20Cb","v":0.55},{"r":"p20H","c":"p20Cx","v":0.65},{"r":"p20H","c":"p45H","v":0.35},{"r":"p20H","c":"p45Cb","v":0.05},{"r":"p20H","c":"p45Cx","v":0.25},
{"r":"p20Cb","c":"p1H","v":0.65},{"r":"p20Cb","c":"p1Cb","v":0.75},{"r":"p20Cb","c":"p1Cx","v":0.65},{"r":"p20Cb","c":"p10H","v":0.45},{"r":"p20Cb","c":"p10Cb","v":0.85},{"r":"p20Cb","c":"p10Cx","v":0.75},{"r":"p20Cb","c":"p20H","v":0.55},{"r":"p20Cb","c":"p20Cb","v":1},{"r":"p20Cb","c":"p20Cx","v":0.45},{"r":"p20Cb","c":"p45H","v":0.05},{"r":"p20Cb","c":"p45Cb","v":0.45},{"r":"p20Cb","c":"p45Cx","v":0.25},
{"r":"p20Cx","c":"p1H","v":0.45},{"r":"p20Cx","c":"p1Cb","v":0.45},{"r":"p20Cx","c":"p1Cx","v":0.45},{"r":"p20Cx","c":"p10H","v":0.45},{"r":"p20Cx","c":"p10Cb","v":0.45},{"r":"p20Cx","c":"p10Cx","v":0.65},{"r":"p20Cx","c":"p20H","v":0.65},{"r":"p20Cx","c":"p20Cb","v":0.45},{"r":"p20Cx","c":"p20Cx","v":1},{"r":"p20Cx","c":"p45H","v":0.05},{"r":"p20Cx","c":"p45Cb","v":0.05},{"r":"p20Cx","c":"p45Cx","v":0.35},
{"r":"p45H","c":"p1H","v":0.05},{"r":"p45H","c":"p1Cb","v":0.05},{"r":"p45H","c":"p1Cx","v":0.05},{"r":"p45H","c":"p10H","v":0.05},{"r":"p45H","c":"p10Cb","v":0.05},{"r":"p45H","c":"p10Cx","v":0.25},{"r":"p45H","c":"p20H","v":0.35},{"r":"p45H","c":"p20Cb","v":0.05},{"r":"p45H","c":"p20Cx","v":0.05},{"r":"p45H","c":"p45H","v":1},{"r":"p45H","c":"p45Cb","v":0.05},{"r":"p45H","c":"p45Cx","v":0.45},
{"r":"p45Cb","c":"p1H","v":0.05},{"r":"p45Cb","c":"p1Cb","v":0.05},{"r":"p45Cb","c":"p1Cx","v":0.05},{"r":"p45Cb","c":"p10H","v":0.05},{"r":"p45Cb","c":"p10Cb","v":0.35},{"r":"p45Cb","c":"p10Cx","v":0.05},{"r":"p45Cb","c":"p20H","v":0.05},{"r":"p45Cb","c":"p20Cb","v":0.45},{"r":"p45Cb","c":"p20Cx","v":0.05},{"r":"p45Cb","c":"p45H","v":0.05},{"r":"p45Cb","c":"p45Cb","v":1},{"r":"p45Cb","c":"p45Cx","v":0.05},
{"r":"p45Cx","c":"p1H","v":0.05},{"r":"p45Cx","c":"p1Cb","v":0.05},{"r":"p45Cx","c":"p1Cx","v":0.05},{"r":"p45Cx","c":"p10H","v":0.05},{"r":"p45Cx","c":"p10Cb","v":0.05},{"r":"p45Cx","c":"p10Cx","v":0.05},{"r":"p45Cx","c":"p20H","v":0.25},{"r":"p45Cx","c":"p20Cb","v":0.25},{"r":"p45Cx","c":"p20Cx","v":0.35},{"r":"p45Cx","c":"p45H","v":0.45},{"r":"p45Cx","c":"p45Cb","v":0.05},{"r":"p45Cx","c":"p45Cx","v":1}],
"L":[{"l":"0 - 0.1","v":0.05},{"l":"0.1 - 0.2","v":0.15},{"l":"0.2 - 0.3","v":0.25},{"l":"0.3 - 0.4","v":0.35},{"l":"0.4 - 0.5","v":0.45},{"l":"0.5 - 0.6","v":0.55},{"l":"0.6 - 0.7","v":0.65},{"l":"0.7 - 0.8","v":0.75},{"l":"0.8 - 0.9","v":0.85},{"l":"0.9 - 0.99","v":0.95},{"l":"1.0","v":1}]
},
"vconcat":[
{"hconcat":[{"width":20,"height":1,"data":{"values":[]},"mark":"rect","encoding":{}},
{"hconcat":[
{"title":{"text":"A","dx":-54,"offset":17},"width":263,"height":130,"data":{"name":"A"},"mark":{"type":"bar","stroke":"#5a62d0","strokeWidth":1},"encoding":{"x":{"field":"g","type":"nominal","sort":null,"title":null,"scale":{"paddingInner":0.417,"paddingOuter":0.174,"align":0.66},"axis":{"labelAngle":0,"tickBand":"extent","tickSize":2,"labelPadding":6,"labelFontSize":10.5}},"xOffset":{"field":"s","sort":["Synaptosomal","Mitochondrial"]},"y":{"field":"v","type":"quantitative","scale":{"domain":[0,100]},"axis":{"values":[0,20,40,60,80,100],"labelExpr":"datum.value==0?'':datum.label","labelFontSize":10.5,"tickSize":3,"title":"% of significant changes","titleFontSize":10,"titleX":-34,"titleY":59}},"fill":{"field":"s","type":"nominal","scale":{"domain":["Synaptosomal","Mitochondrial"],"range":["#1f3af0","#f2fa0a"]},"legend":{"orient":"none","legendX":258,"legendY":-3,"title":null,"symbolType":"square","symbolSize":85,"symbolStrokeWidth":0,"labelFontSize":10,"rowPadding":9,"padding":0,"labelColor":"#222"}}}},
{"title":{"text":"B","dx":-57,"offset":17},"width":246,"height":130,"data":{"name":"B"},"mark":{"type":"bar","stroke":"#5a62d0","strokeWidth":1},"encoding":{"x":{"field":"g","type":"nominal","sort":null,"title":null,"scale":{"paddingInner":0.417,"paddingOuter":0.082,"align":0.98},"axis":{"labelAngle":0,"ticks":false,"labelPadding":6,"labelFontSize":10.5}},"xOffset":{"field":"s","sort":["Synaptosomal","Mitochondrial"]},"y":{"field":"v","type":"quantitative","scale":{"domain":[0,100]},"axis":{"values":[0,20,40,60,80,100],"labelExpr":"datum.value==0?'':datum.label","labelFontSize":10.5,"tickSize":3,"title":"% of significant changes","titleFontSize":10,"titleX":-34,"titleY":59}},"fill":{"field":"s","type":"nominal","scale":{"domain":["Synaptosomal","Mitochondrial"],"range":["#1f3af0","#f2fa0a"]},"legend":null}}}
],"spacing":173,"bounds":"flush","resolve":{"scale":{"fill":"independent"},"legend":{"fill":"independent"}}}
],"spacing":0,"bounds":"flush","resolve":{"scale":{"fill":"independent"},"legend":{"fill":"independent"}}},
{"width":1,"height":204,"data":{"values":[]},"mark":"rect","encoding":{}},
{"hconcat":[{"width":79,"height":1,"data":{"values":[]},"mark":"rect","encoding":{}},
{"hconcat":[
{"title":{"text":"C","dx":-113,"offset":2},"width":178,"height":120,"encoding":{"x":{"field":"x","type":"quantitative","scale":{"domain":[0,3],"nice":false},"axis":{"values":[0,0.5,1,1.5,2,2.5,3],"format":".1f","labelExpr":"datum.value==0?'':datum.label","labelFontSize":9.5,"tickSize":3,"labelPadding":4,"title":"ln(fold change)","titleFontSize":13.5,"titlePadding":6}},"y":{"field":"y","type":"quantitative","scale":{"domain":[4,-0.033],"nice":false,"zero":false},"axis":{"values":[0.48,1.48,2.46,3.46],"labelExpr":"datum.value<1?'p1':datum.value<2?'p10':datum.value<3?'p20':'p45'","labelFontSize":10.5,"labelColor":"#333","tickSize":3,"labelPadding":3,"title":null}}},
"layer":[{"data":{"name":"C"},"mark":{"type":"point","shape":"circle","filled":false,"stroke":"#000","strokeWidth":1.6,"size":15,"opacity":1,"clip":false}},{"data":{"name":"Cm"},"mark":{"type":"rule","stroke":"#e2161f","strokeWidth":3},"encoding":{"y2":{"field":"y2"}}},{"data":{"name":"Cb"},"mark":{"type":"rule","stroke":"#333","strokeWidth":1.3,"clip":false},"encoding":{"x2":{"field":"x2"},"y2":{"field":"y2"}}},{"data":{"name":"Cs"},"mark":{"type":"text","font":"DejaVu Sans","fontSize":12,"color":"#111","clip":false},"encoding":{"text":{"field":"t"}}}]},
{"title":{"text":"D","dx":-103,"offset":1},"width":177,"height":119,"encoding":{"x":{"field":"x","type":"quantitative","scale":{"domain":[0,3],"nice":false},"axis":{"values":[0,0.5,1,1.5,2,2.5,3],"format":".1f","labelExpr":"datum.value==0?'':datum.label","labelFontSize":9.5,"tickSize":3,"labelPadding":4,"title":"ln(fold change)","titleFontSize":13.5,"titlePadding":6}},"y":{"field":"y","type":"quantitative","scale":{"domain":[4,0],"nice":false,"zero":false},"axis":{"values":[0.46,1.46,2.44,3.44],"labelExpr":"datum.value<1?'p1':datum.value<2?'p10':datum.value<3?'p20':'p45'","labelFontSize":10.5,"labelColor":"#333","tickSize":3,"labelPadding":3,"title":null}}},
"layer":[{"data":{"name":"D"},"mark":{"type":"point","shape":"circle","filled":false,"stroke":"#000","strokeWidth":1.6,"size":15,"opacity":1,"clip":false}},{"data":{"name":"Dm"},"mark":{"type":"rule","stroke":"#e2161f","strokeWidth":3},"encoding":{"y2":{"field":"y2"}}},{"data":{"name":"Db"},"mark":{"type":"rule","stroke":"#333","strokeWidth":1.3,"clip":false},"encoding":{"x2":{"field":"x2"},"y2":{"field":"y2"}}},{"data":{"name":"Ds"},"mark":{"type":"text","font":"DejaVu Sans","fontSize":12,"color":"#111","clip":false},"encoding":{"text":{"field":"t"}}}]}
],"spacing":242,"bounds":"flush"}
],"spacing":0,"bounds":"flush"},
{"width":1,"height":222,"data":{"values":[]},"mark":"rect","encoding":{}},
{"hconcat":[
{"title":{"text":"E","dx":-33,"offset":23},"width":340,"height":137,"data":{"name":"E"},"mark":{"type":"rect","stroke":"#555","strokeWidth":1},"encoding":{"x":{"field":"c","type":"nominal","sort":null,"title":null,"axis":{"orient":"top","ticks":false,"domain":false,"labelAngle":0,"labelPadding":1,"labelFontSize":8.5}},"y":{"field":"r","type":"nominal","sort":null,"title":null,"scale":{"range":[1,137]},"axis":{"ticks":false,"domain":false,"labelAlign":"left","labelPadding":27,"labelFontSize":8.5}},"fill":{"field":"v","type":"quantitative","scale":{"type":"threshold","domain":[0.1,0.2,0.3,0.4,0.5,0.6,0.7,0.8,0.9,0.99],"range":["#e8fbe4","#dcefdc","#ccfcc0","#a6fb94","#80fb6b","#33fb1e","#1fd800","#17b000","#107c00","#122b08","#000000"]},"legend":null}}},
{"title":{"text":"F","dx":-38,"offset":21},"width":340,"height":136,"data":{"name":"F"},"mark":{"type":"rect","stroke":"#333","strokeWidth":1},"encoding":{"x":{"field":"c","type":"nominal","sort":null,"title":null,"axis":{"orient":"top","ticks":false,"domain":false,"labelAngle":0,"labelPadding":2,"labelFontSize":8.5}},"y":{"field":"r","type":"nominal","sort":null,"title":null,"axis":{"ticks":false,"domain":false,"labelAlign":"left","labelPadding":27,"labelFontSize":8.5}},"fill":{"field":"v","type":"quantitative","scale":{"type":"threshold","domain":[0.1,0.2,0.3,0.4,0.5,0.6,0.7,0.8,0.9,0.99],"range":["#e8fbe4","#dcefdc","#ccfcc0","#a6fb94","#80fb6b","#33fb1e","#1fd800","#17b000","#107c00","#122b08","#000000"]},"legend":null}}}
],"spacing":68,"bounds":"flush","resolve":{"scale":{"fill":"independent"}}},
{"width":1,"height":204,"data":{"values":[]},"mark":"rect","encoding":{}},
{"hconcat":[{"width":182,"height":1,"data":{"values":[]},"mark":"rect","encoding":{}},
{"hconcat":[
{"title":{"text":"G","dx":-37,"offset":2},"width":341,"height":136,"data":{"name":"G"},"mark":{"type":"rect","stroke":"#444","strokeWidth":1},"encoding":{"x":{"field":"c","type":"nominal","sort":null,"title":null,"axis":{"orient":"top","ticks":false,"domain":false,"labelAngle":0,"labelPadding":2,"labelFontSize":8.5}},"y":{"field":"r","type":"nominal","sort":null,"title":null,"axis":{"ticks":false,"domain":false,"labelAlign":"left","labelPadding":27,"labelFontSize":8.5}},"fill":{"field":"v","type":"quantitative","scale":{"type":"threshold","domain":[0.1,0.2,0.3,0.4,0.5,0.6,0.7,0.8,0.9,0.99],"range":["#e8fbe4","#dcefdc","#ccfcc0","#a6fb94","#80fb6b","#33fb1e","#1fd800","#17b000","#107c00","#122b08","#000000"]},"legend":null}}},
{"width":27,"height":136,"data":{"name":"L"},"mark":{"type":"rect"},"encoding":{"y":{"field":"l","type":"nominal","sort":null,"title":null,"scale":{"range":[6,129]},"axis":{"orient":"right","ticks":false,"domain":false,"labelPadding":3,"labelFontSize":8.5,"labelExpr":"datum.value=='1.0'?'\u00a0\u00a0\u00a0\u00a01.0':datum.value"}},"fill":{"field":"v","type":"quantitative","scale":{"type":"threshold","domain":[0.1,0.2,0.3,0.4,0.5,0.6,0.7,0.8,0.9,0.99],"range":["#e8fbe4","#dcefdc","#ccfcc0","#a6fb94","#80fb6b","#33fb1e","#1fd800","#17b000","#107c00","#122b08","#000000"]},"legend":null}}}
],"spacing":16,"bounds":"flush","resolve":{"scale":{"fill":"independent"}}}
],"spacing":0,"bounds":"flush","resolve":{"scale":{"fill":"independent"}}}
]}
